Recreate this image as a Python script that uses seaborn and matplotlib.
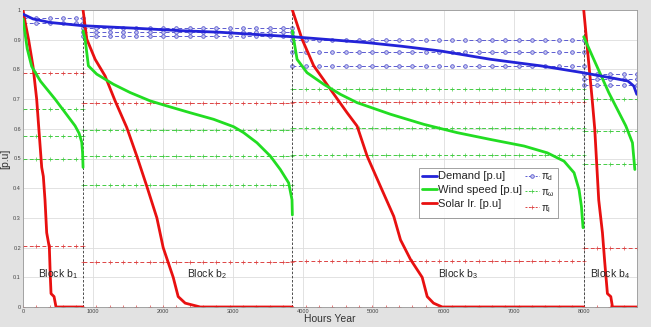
import numpy as np
import matplotlib
matplotlib.use("Agg")
import matplotlib.pyplot as plt
from matplotlib.lines import Line2D
import seaborn as sns

# block edges (hours)
block_edges = [0, 857, 3843, 8000, 8760]
block_names = ["Block b$_1$", "Block b$_2$", "Block b$_3$", "Block b$_4$"]
label_x = [214, 2343, 5914, 8086]

# demand duration curve
demand_h = [0, 143, 386, 857, 1571, 2286, 2814, 3843, 4914, 5400, 5957, 6671,
            7386, 7986, 8429, 8629, 8714, 8757]
demand_v = [0.986, 0.970, 0.958, 0.947, 0.939, 0.930, 0.925, 0.910, 0.890, 0.878,
            0.862, 0.834, 0.812, 0.789, 0.770, 0.761, 0.744, 0.716]

# wind per block
wind_h = [
    [0, 30, 60, 124, 250, 457, 600, 743, 800, 838, 850, 857],
    [857, 886, 933, 1052, 1290, 1529, 1814, 2052, 2386, 2719, 3005, 3148, 3338, 3529,
     3671, 3790, 3838, 3843],
    [3843, 3862, 3910, 4052, 4290, 4529, 4767, 5243, 5719, 6195, 6671, 7148, 7481, 7719,
     7862, 7933, 7967, 7990],
    [8000, 8143, 8357, 8600, 8695, 8729],
]
wind_v = [
    [0.970, 0.920, 0.870, 0.810, 0.760, 0.700, 0.655, 0.610, 0.585, 0.555, 0.520, 0.470],
    [0.930, 0.902, 0.812, 0.784, 0.750, 0.722, 0.694, 0.677, 0.654, 0.632, 0.607, 0.587,
     0.553, 0.508, 0.463, 0.418, 0.361, 0.310],
    [0.930, 0.902, 0.834, 0.789, 0.750, 0.716, 0.688, 0.649, 0.615, 0.587, 0.564, 0.542,
     0.519, 0.491, 0.452, 0.395, 0.339, 0.267],
    [0.910, 0.834, 0.722, 0.610, 0.553, 0.463],
]

# solar per block
solar_h = [
    [0, 30, 80, 143, 195, 230, 267, 290, 314, 338, 376, 390, 400, 443, 471, 857],
    [857, 910, 1029, 1171, 1314, 1481, 1624, 1767, 1910, 2000, 2143, 2214, 2314, 2529, 3843],
    [3843, 3981, 4148, 4386, 4624, 4767, 4910, 5100, 5290, 5386, 5529, 5695, 5767, 5857,
     5981, 8000],
    [8000, 8060, 8120, 8157, 8214, 8267, 8300, 8338, 8386, 8410, 8760],
]
solar_v = [
    [1.0, 0.96, 0.90, 0.81, 0.70, 0.587, 0.47, 0.44, 0.36, 0.25, 0.20, 0.10, 0.045, 0.035,
     0.0, 0.0],
    [1.0, 0.902, 0.834, 0.778, 0.694, 0.604, 0.508, 0.406, 0.30, 0.20, 0.10, 0.035, 0.013,
     0.0, 0.0],
    [1.0, 0.902, 0.812, 0.733, 0.654, 0.609, 0.508, 0.406, 0.305, 0.226, 0.16, 0.10, 0.035,
     0.013, 0.0, 0.0],
    [1.0, 0.85, 0.70, 0.60, 0.36, 0.25, 0.15, 0.045, 0.035, 0.0, 0.0],
]

# representative levels per block
pi_d = [[0.973, 0.955], [0.941, 0.925, 0.911], [0.900, 0.860, 0.810], [0.784, 0.767, 0.748]]
pi_w = [[0.665, 0.575, 0.497], [0.595, 0.508, 0.412], [0.735, 0.604, 0.513], [0.700, 0.592, 0.480]]
pi_l = [[0.787, 0.206, 0.0], [0.688, 0.153, 0.0], [0.690, 0.155, 0.0], [0.198, 0.0]]

x_ticks = [0, 1000, 2000, 3000, 4000, 5000, 6000, 7000, 8000]
y_ticks = [0, 0.1, 0.2, 0.3, 0.4, 0.5, 0.6, 0.7, 0.8, 0.9, 1.0]

sns.set_style("whitegrid")
plt.rcParams["font.family"] = ["Liberation Sans", "DejaVu Sans"]
plt.rcParams["mathtext.fontset"] = "custom"
plt.rcParams["mathtext.rm"] = "Liberation Sans"
plt.rcParams["mathtext.it"] = "Liberation Sans"
plt.rcParams["mathtext.default"] = "regular"

c_blue, c_green, c_red = "#2323d8", "#22dd22", "#e81010"
c_blue_d, c_green_d, c_red_d = "#5a5ad0", "#44cc44", "#dd4444"

fig = plt.figure(figsize=(6.51, 3.27), dpi=100, facecolor="#e2e2e2")
ax = fig.add_axes([23 / 651, 20 / 327, 614 / 651, 297 / 327])
ax.set_facecolor("white")

# level lines with markers
step = 190
for b in range(4):
    x0, x1 = block_edges[b], block_edges[b + 1]
    xs = np.append(np.arange(x0, x1, step), x1)
    for lv in pi_l[b]:
        ax.plot(xs, np.full(len(xs), lv), ls=(0, (4, 2.5)), lw=0.7, color=c_red_d,
                marker="+", ms=3, mew=0.5, zorder=2)
    for lv in pi_w[b]:
        ax.plot(xs, np.full(len(xs), lv), ls=(0, (4, 2.5)), lw=0.7, color=c_green_d,
                marker="+", ms=3, mew=0.5, zorder=2)
    for lv in pi_d[b]:
        ax.plot(xs, np.full(len(xs), lv), ls=(0, (4, 2.5)), lw=0.7, color=c_blue_d,
                marker="o", ms=2.6, mfc="#c8c8f0", mew=0.6, zorder=2)

# block boundaries
for e in block_edges[1:-1]:
    ax.axvline(e, color="#333333", lw=0.6, ls=(0, (3, 2)), zorder=2.5)

# main curves
for b in range(4):
    sns.lineplot(x=solar_h[b], y=solar_v[b], ax=ax, color=c_red, lw=2.0,
                 estimator=None, sort=False, zorder=3)
    sns.lineplot(x=wind_h[b], y=wind_v[b], ax=ax, color=c_green, lw=2.0,
                 estimator=None, sort=False, zorder=3)
sns.lineplot(x=demand_h, y=demand_v, ax=ax, color=c_blue, lw=2.0,
             estimator=None, sort=False, zorder=4)

for name, xt in zip(block_names, label_x):
    ax.text(xt, 0.11, name, fontsize=7.5, va="center", ha="left", zorder=5)

ax.set_xlim(0, 8760)
ax.set_ylim(0, 1)
ax.set_xticks(x_ticks)
ax.set_yticks(y_ticks)
ax.set_xticklabels([str(t) for t in x_ticks])
ax.set_yticklabels(["0" if t == 0 else ("1" if t == 1 else f"{t:.1f}") for t in y_ticks])
ax.tick_params(labelsize=4, pad=1.5, length=0, colors="#444444")
ax.grid(True, color="#dddddd", lw=0.6)
for s in ax.spines.values():
    s.set_color("#999999")
    s.set_linewidth(0.6)
ax.set_xlabel("Hours Year", fontsize=7.5, labelpad=0, color="#333333")
ax.set_ylabel("[p.u]", fontsize=7.5, labelpad=2, color="#333333")

handles = [
    Line2D([], [], color=c_blue, lw=2),
    Line2D([], [], color=c_green, lw=2),
    Line2D([], [], color=c_red, lw=2),
    Line2D([], [], color=c_blue_d, lw=0.7, ls=(0, (2, 1.5)), marker="o", ms=2.6, mfc="#c8c8f0", mew=0.6),
    Line2D([], [], color=c_green_d, lw=0.7, ls=(0, (2, 1.5)), marker="+", ms=3, mew=0.5),
    Line2D([], [], color=c_red_d, lw=0.7, ls=(0, (2, 1.5)), marker="+", ms=3, mew=0.5),
]
labels = ["Demand [p.u]", "Wind speed [p.u]", "Solar Ir. [p.u]",
          r"$\pi_d$", r"$\pi_\omega$", r"$\pi_l$"]
leg = ax.legend(handles, labels, ncol=2, loc="lower left", bbox_to_anchor=(0.645, 0.30),
                fontsize=8, frameon=True, fancybox=False, handlelength=1.3,
                handletextpad=0.15, columnspacing=0.2, labelspacing=0.35,
                borderpad=0.3, borderaxespad=0)
for t in leg.get_texts()[3:]:
    t.set_fontsize(7)
leg.get_frame().set_edgecolor("#777777")
leg.get_frame().set_linewidth(0.6)
leg.set_zorder(6)

fig.savefig("out.png", dpi=100, facecolor=fig.get_facecolor())
